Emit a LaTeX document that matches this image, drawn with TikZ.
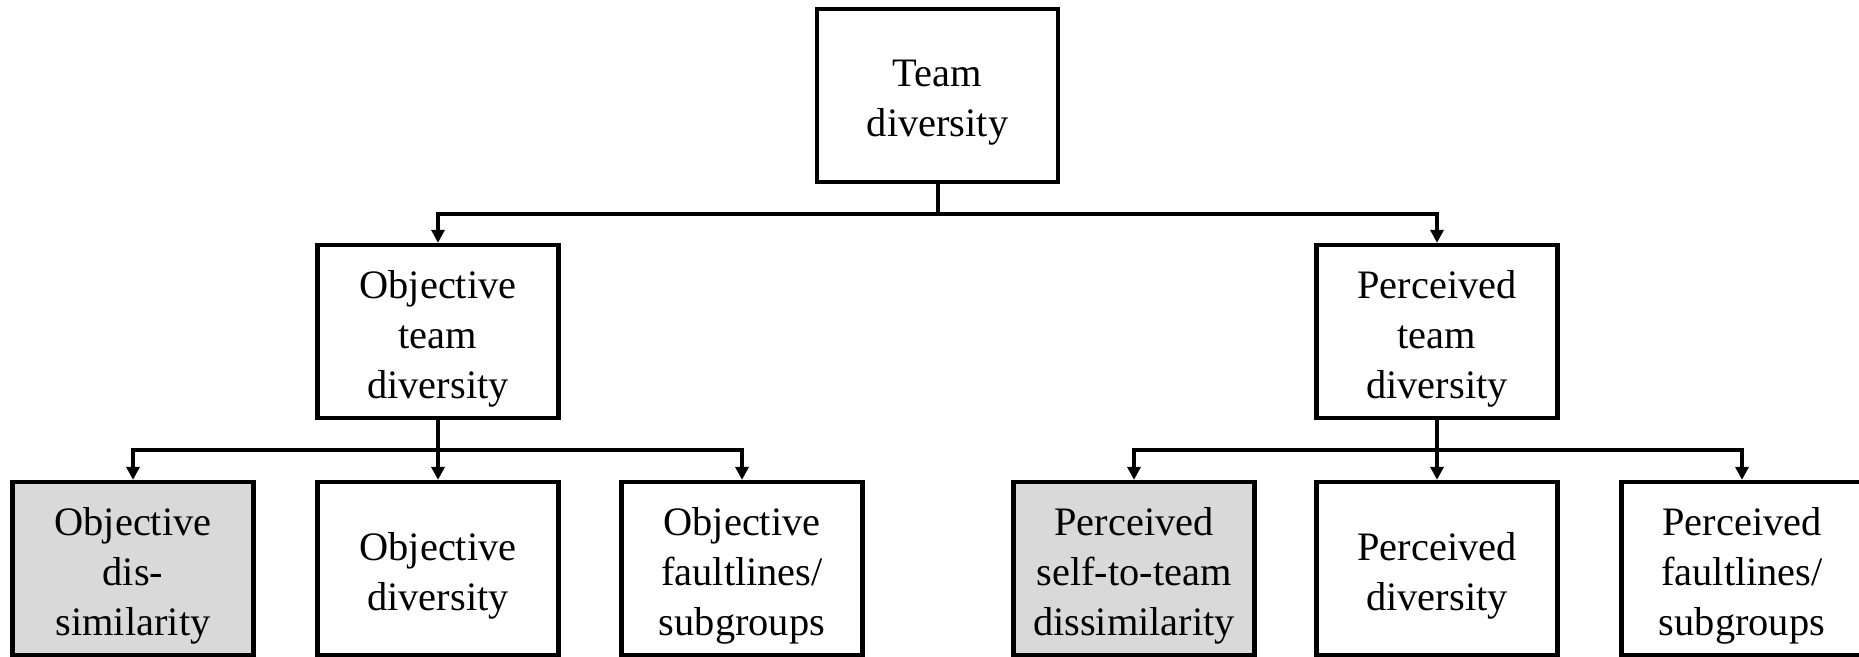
\documentclass[tikz,border=0pt]{standalone}
\usepackage{fontspec}
\setmainfont{Liberation Serif}
\usetikzlibrary{arrows.meta}
\begin{document}
\begin{tikzpicture}[x=0.5pt,y=-0.5pt,
  box/.style={draw=black, line width=2.15pt, fill=white,
    minimum width=120.5pt, minimum height=86.5pt, inner sep=0pt},
  shaded/.style={box, fill=black!15},
  txt/.style={align=center, inner sep=0pt,
    font=\fontsize{20.2pt}{25pt}\selectfont},
  bus/.style={line width=2pt, line join=miter},
  conn/.style={bus, -{Triangle[length=6.5pt,width=6.5pt]}}]
  \useasboundingbox (0,0) rectangle (1859,657);
  \clip (0,0) rectangle (1859,657);

  % top level
  \node[box] (td) at (937.5,95.5) {};

  % second level
  \node[box] (otd) at (438,331.5) {};
  \node[box] (ptd) at (1437,331.5) {};

  % third level
  \node[shaded] (od)  at (133,568.5)  {};
  \node[box]    (odv) at (438,568.5)  {};
  \node[box]    (of)  at (742,568.5)  {};
  \node[shaded] (ps)  at (1134,568.5) {};
  \node[box]    (pd)  at (1437,568.5) {};
  \node[box]    (pf)  at (1742,568.5) {};

  % box texts, set a little below each centre
  \node[txt] (td-t)  at ([yshift=-3.5pt]td.center)  {Team\\diversity};
  \node[txt] (otd-t) at ([yshift=-3.5pt]otd.center) {Objective\\team\\diversity};
  \node[txt] (ptd-t) at ([yshift=-3.5pt]ptd.center) {Perceived\\team\\diversity};
  \node[txt] (od-t)  at ([yshift=-3.5pt]od.center)  {Objective\\dis-\\similarity};
  \node[txt] (odv-t) at ([yshift=-3.5pt]odv.center) {Objective\\diversity};
  \node[txt] (of-t)  at ([yshift=-3.5pt]of.center)  {Objective\\faultlines/\\subgroups};
  \node[txt] (ps-t)  at ([yshift=-3.5pt]ps.center)  {Perceived\\self-to-team\\dissimilarity};
  \node[txt] (pd-t)  at ([yshift=-3.5pt]pd.center)  {Perceived\\diversity};
  \node[txt] (pf-t)  at ([yshift=-3.5pt]pf.center)  {Perceived\\faultlines/\\subgroups};

  % branching points
  \coordinate (b0) at (937.5,214);
  \coordinate (b1) at (438,450);
  \coordinate (b2) at (1437,450);

  % connectors
  \draw[bus]  (td.south) -- (b0);
  \draw[conn] (b0) -| (otd.north);
  \draw[conn] (b0) -| (ptd.north);

  \draw[bus]  (otd.south) -- (b1);
  \draw[conn] (b1) -| (od.north);
  \draw[conn] (b1) -- (odv.north);
  \draw[conn] (b1) -| (of.north);

  \draw[bus]  (ptd.south) -- (b2);
  \draw[conn] (b2) -| (ps.north);
  \draw[conn] (b2) -- (pd.north);
  \draw[conn] (b2) -| (pf.north);
\end{tikzpicture}
\end{document}
